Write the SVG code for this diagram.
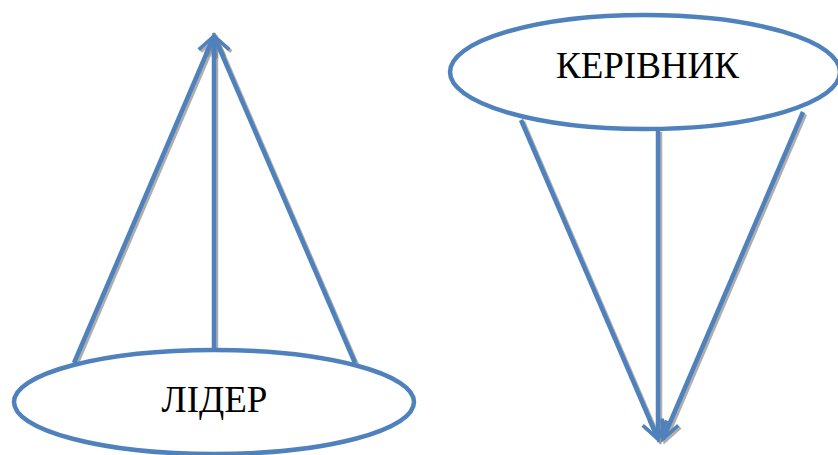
<svg xmlns="http://www.w3.org/2000/svg" width="838" height="455" viewBox="0 0 838 455">
<style>
.el{fill:#fff;stroke:#4F81BD;stroke-width:4.5}
.ln{fill:none;stroke:#4F81BD;stroke-width:4.5;marker-end:url(#ah)}
.sh{fill:none;stroke:#8c8c8c;stroke-width:4.5;opacity:0.7;marker-end:url(#ahs)}
.t{font-family:'Liberation Serif','Times New Roman',serif;font-size:37px;fill:#000;text-anchor:middle}
</style>
<defs>
<marker id="ah" viewBox="0 0 10 10" refX="8.5" refY="5" markerWidth="5.5" markerHeight="5.5" orient="auto" markerUnits="strokeWidth">
<path d="M1,1.5 L8.5,5 L1,8.5" fill="none" stroke="#4F81BD" stroke-width="1.4"/>
</marker>
<marker id="ahs" viewBox="0 0 10 10" refX="8.5" refY="5" markerWidth="5.5" markerHeight="5.5" orient="auto" markerUnits="strokeWidth">
<path d="M1,1.5 L8.5,5 L1,8.5" fill="none" stroke="#8c8c8c" stroke-width="1.4"/>
</marker>
</defs>
<g id="connectors">
<g transform="translate(2,2)">
<line class="sh" x1="74" y1="363" x2="214" y2="36"/>
<line class="sh" x1="214" y1="350" x2="214" y2="36"/>
<line class="sh" x1="355" y1="363" x2="214" y2="36"/>
<line class="sh" x1="521" y1="120" x2="658" y2="439"/>
<line class="sh" x1="658" y1="130" x2="658" y2="439"/>
<line class="sh" x1="803" y1="112" x2="663" y2="439"/>
</g>
<line class="ln" x1="74" y1="363" x2="214" y2="36"/>
<line class="ln" x1="214" y1="350" x2="214" y2="36"/>
<line class="ln" x1="355" y1="363" x2="214" y2="36"/>
<line class="ln" x1="521" y1="120" x2="658" y2="439"/>
<line class="ln" x1="658" y1="130" x2="658" y2="439"/>
<line class="ln" x1="803" y1="112" x2="663" y2="439"/>
</g>
<g id="lider">
<ellipse class="el" cx="214" cy="402" rx="200" ry="52" fill-opacity="0"/>
<text class="t" x="214.5" y="412">ЛІДЕР</text>
</g>
<g id="kerivnyk">
<ellipse class="el" cx="645" cy="72" rx="195" ry="57"/>
<text class="t" x="647.5" y="78">КЕРІВНИК</text>
</g>
</svg>
